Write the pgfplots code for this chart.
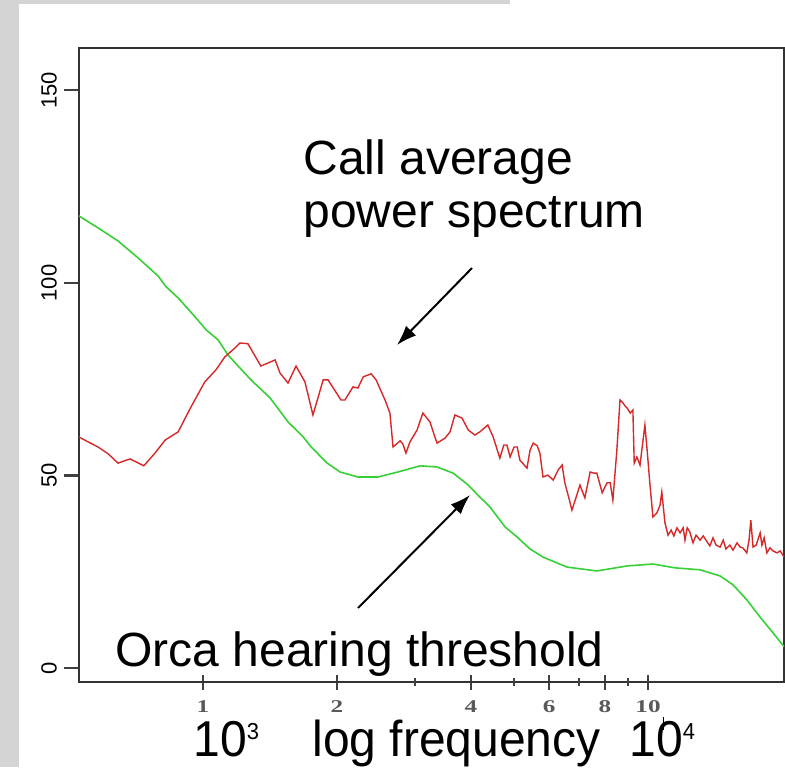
\documentclass[border=0pt]{standalone}
\usepackage{pgfplots}
\pgfplotsset{compat=1.18}
\usepackage{graphicx}
\usepackage{fontspec}
\setmainfont{Liberation Sans}
\newfontfamily\serifb{Liberation Serif}
\usetikzlibrary{arrows.meta}
\definecolor{rred}{RGB}{214,40,40}
\definecolor{rgreen}{RGB}{55,208,55}
\definecolor{bggray}{RGB}{212,212,212}
\newcommand\xl[1]{\scalebox{1.4}[1]{#1}}
\begin{document}
\begin{tikzpicture}[x=1pt,y=1pt]
\fill[bggray] (0,0) rectangle (392.5,383.5);
\fill[white] (9.5,0) rectangle (392.5,381.5);
\fill[white] (255,381.5) rectangle (392.5,383.5);
\begin{axis}[
  at={(39.5pt,42.5pt)}, anchor=south west,
  scale only axis, width=352.5pt, height=317pt,
  xmin=2.7213, xmax=4.3056, ymin=-3.64, ymax=161,
  axis line style={black!80, line width=0.7pt},
  xtick={3,3.30103,3.60206,3.77815,3.90309,4},
  xticklabels={\xl{1},\xl{2},\xl{4},\xl{6},\xl{8},\xl{10}},
  extra x ticks={3.47712,3.69897,3.84510,3.95424},
  extra x tick labels={},
  extra x tick style={major tick length=4pt},
  xtick align=center,
  ytick align=outside,
  xtick pos=bottom, ytick pos=left,
  ytick={0,50,100,150},
  major tick length=7.5pt,
  tick style={black!75, line width=1.1pt},
  /pgf/number format/assume math mode=true,
  xticklabel style={font=\serifb\bfseries\fontsize{9}{9}\selectfont, text=black!65, yshift=-2pt},
  yticklabel style={rotate=90, anchor=south, font=\fontsize{11}{11}\selectfont},
]
\addplot[rgreen, line width=0.8pt] coordinates {
(2.721,117.4)(2.764,114.3)(2.809,110.9)(2.854,106.5)(2.899,101.8)(2.917,99.0)(2.944,96.1)(2.982,91.2)(3.007,87.8)(3.034,85.2)(3.056,81.3)(3.083,77.9)(3.108,74.8)(3.151,70.1)(3.191,63.9)(3.225,60.0)(3.243,57.4)(3.279,53.2)(3.308,50.9)(3.348,49.6)(3.393,49.6)(3.438,50.9)(3.488,52.5)(3.526,52.2)(3.562,50.6)(3.593,47.8)(3.622,44.4)(3.645,41.8)(3.679,36.6)(3.706,34.0)(3.735,30.9)(3.764,28.8)(3.818,26.2)(3.885,25.2)(3.953,26.5)(4.011,27.0)(4.061,26.0)(4.117,25.5)(4.162,23.9)(4.191,21.6)(4.222,17.7)(4.252,13.2)(4.279,9.4)(4.306,5.5)
};
\addplot[rred, line width=0.7pt] coordinates {
(2.721,60.0)(2.742,58.7)(2.764,57.4)(2.787,55.6)(2.809,53.2)(2.836,54.3)(2.867,52.5)(2.892,55.8)(2.915,59.2)(2.944,61.3)(2.973,67.8)(3.004,74.3)(3.029,77.4)(3.049,80.8)(3.067,82.6)(3.083,84.4)(3.101,84.2)(3.117,81.0)(3.130,78.4)(3.162,80.0)(3.173,76.6)(3.191,74.0)(3.209,78.4)(3.229,74.3)(3.247,65.7)(3.270,74.8)(3.281,74.8)(3.310,69.6)(3.319,69.6)(3.337,73.0)(3.348,72.7)(3.360,75.6)(3.378,76.4)(3.389,74.8)(3.409,69.6)(3.420,66.2)(3.427,57.4)(3.443,59.0)(3.449,58.2)(3.456,55.8)(3.465,58.7)(3.481,61.8)(3.494,66.2)(3.510,63.9)(3.521,60.0)(3.526,58.4)(3.544,59.7)(3.555,61.3)(3.566,65.7)(3.582,64.9)(3.596,61.8)(3.611,60.5)(3.622,61.3)(3.640,63.1)(3.652,60.0)(3.667,54.5)(3.676,57.9)(3.683,57.9)(3.690,54.8)(3.699,57.4)(3.706,57.4)(3.712,54.0)(3.728,51.9)(3.735,56.6)(3.742,58.4)(3.751,57.7)(3.757,55.8)(3.764,49.6)(3.775,50.1)(3.787,48.8)(3.798,51.4)(3.807,52.7)(3.813,48.1)(3.822,44.2)(3.829,41.0)(3.840,44.9)(3.847,47.5)(3.858,44.2)(3.870,50.9)(3.879,50.6)(3.885,50.6)(3.897,45.5)(3.908,48.1)(3.915,48.1)(3.921,43.6)(3.930,56.6)(3.937,69.6)(3.944,68.8)(3.948,68.1)(3.953,67.5)(3.960,66.2)(3.966,67.0)(3.969,53.2)(3.975,54.8)(3.982,52.7)(3.993,63.1)(3.998,56.6)(4.004,48.1)(4.011,39.2)(4.020,40.3)(4.027,42.3)(4.031,45.7)(4.038,37.7)(4.045,34.5)(4.052,35.8)(4.058,34.3)(4.065,36.4)(4.072,35.1)(4.079,36.4)(4.083,33.2)(4.088,36.4)(4.094,35.3)(4.101,32.5)(4.108,34.5)(4.117,33.2)(4.124,34.3)(4.133,32.7)(4.139,31.7)(4.146,33.8)(4.153,31.9)(4.162,31.4)(4.169,33.2)(4.175,30.9)(4.184,31.9)(4.191,30.6)(4.200,32.5)(4.207,31.4)(4.213,31.2)(4.222,29.9)(4.227,33.2)(4.231,38.4)(4.236,31.4)(4.243,31.9)(4.252,35.1)(4.256,31.9)(4.261,33.8)(4.267,29.9)(4.274,31.2)(4.281,30.4)(4.290,29.9)(4.297,30.4)(4.306,28.8)
};
\end{axis}
\node[anchor=base west, inner sep=0, font=\fontsize{24}{24}\selectfont] at (151.5,296) {Call average};
\node[anchor=base west, inner sep=0, font=\fontsize{24}{24}\selectfont] at (151.5,269.5) {power spectrum};
\node[anchor=base west, inner sep=0, font=\fontsize{24}{24}\selectfont] at (57.5,50.5) {Orca hearing threshold};
\draw[line width=1pt, -{Latex[length=10pt,width=7pt]}] (236,249.5) -- (198.5,211);
\draw[line width=1pt, -{Latex[length=10pt,width=7pt]}] (179,79.5) -- (235,136);
\node[anchor=base west, inner sep=0, font=\fontsize{24}{24}\selectfont] at (96.5,5.5) {\scalebox{1}[1.05]{10\raisebox{7.9pt}{\fontsize{11}{11}\selectfont 3}}};
\node[anchor=base west, inner sep=0, font=\fontsize{24}{24}\selectfont] at (156,5.5) {\scalebox{1}[1.05]{log frequency}};
\node[anchor=base west, inner sep=0, font=\fontsize{24}{24}\selectfont] at (314.5,5.5) {\scalebox{1}[1.05]{10\raisebox{7.9pt}{\fontsize{11}{11}\selectfont 4}}};
\draw[line width=0.5pt] (331.5,25) -- (331.5,18.5);
\pgfresetboundingbox
\useasboundingbox (0,0) rectangle (392.5,383.5);
\end{tikzpicture}
\end{document}
